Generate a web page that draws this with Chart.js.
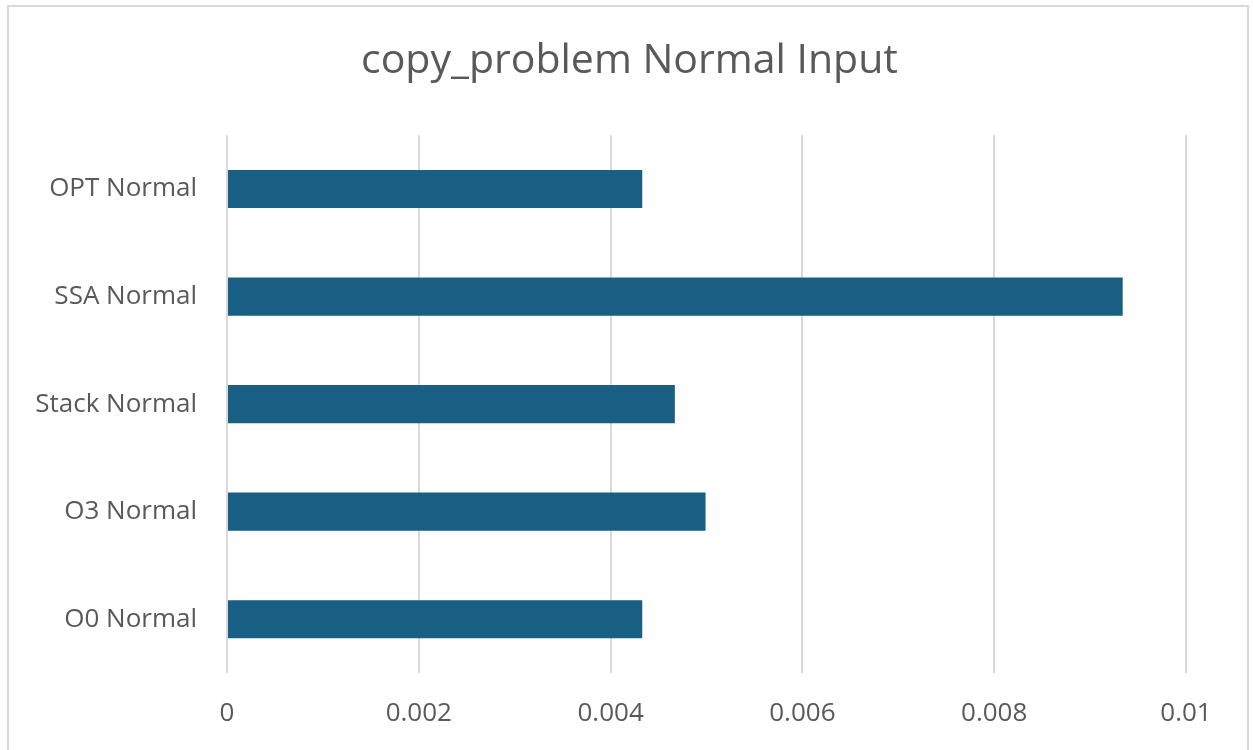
<!DOCTYPE html>
<html>
<head>
<meta charset="utf-8">
<script src="https://cdn.jsdelivr.net/npm/chart.js@4/dist/chart.umd.min.js"></script>
<style>
  html, body { margin: 0; padding: 0; background: #fff; overflow: hidden; }
  #wrap { position: absolute; left: 0; top: 0; width: 1253px; height: 750px; }
  #frame { position: absolute; left: 7px; top: 5px; width: 1242px; height: 800px;
           border: 2px solid #d9d9d9; box-sizing: border-box; pointer-events: none; }
</style>
</head>
<body>
<div id="wrap"><canvas id="c" width="1253" height="750"></canvas></div>
<div id="frame"></div>
<script>
// Run time per build configuration (seconds)
const categories = ['OPT Normal', 'SSA Normal', 'Stack Normal', 'O3 Normal', 'O0 Normal'];
const runTimes = [0.00433, 0.00934, 0.00467, 0.00499, 0.00433];
const xTicks = [0, 0.002, 0.004, 0.006, 0.008, 0.01];
const chartTitle = 'copy_problem Normal Input';

const FONT = "'Open Sans', 'Liberation Sans', sans-serif";
const TEXT = '#595959';

// Centre the title over the whole frame rather than over the padded layout box
const centerTitle = {
  id: 'centerTitle',
  afterLayout(chart) {
    const t = chart.titleBlock;
    if (t) { t.left = 6; t.right = chart.width; t.width = t.right - t.left; }
  }
};

new Chart(document.getElementById('c'), {
  type: 'bar',
  data: {
    labels: categories,
    datasets: [{
      data: runTimes,
      backgroundColor: '#195e83',
      borderWidth: 0,
      barPercentage: 0.355,
      categoryPercentage: 1
    }]
  },
  options: {
    indexAxis: 'y',
    responsive: false,
    animation: false,
    layout: { padding: { left: 0, right: 67, top: 0, bottom: 0 } },
    plugins: {
      legend: { display: false },
      tooltip: { enabled: false },
      title: {
        display: true,
        text: chartTitle,
        color: TEXT,
        font: { family: FONT, size: 41, weight: 'normal', lineHeight: 1.2 },
        padding: { top: 37, bottom: 49 }
      }
    },
    scales: {
      x: {
        min: 0,
        max: 0.01,
        afterBuildTicks: (scale) => { scale.ticks = xTicks.map(v => ({ value: v })); },
        afterFit: (scale) => { scale.height = 77; },
        grid: { color: '#d9d9d9', lineWidth: 2, drawTicks: false },
        border: { display: false },
        ticks: {
          padding: 25,
          color: TEXT,
          font: { family: FONT, size: 26 },
          callback: (v) => String(+v.toFixed(4))
        }
      },
      y: {
        afterFit: (scale) => { scale.width = 227; },
        grid: { display: false, drawTicks: false },
        border: { display: false },
        ticks: {
          padding: 30,
          color: TEXT,
          font: { family: FONT, size: 26 }
        }
      }
    }
  },
  plugins: [centerTitle]
});
</script>
</body>
</html>
